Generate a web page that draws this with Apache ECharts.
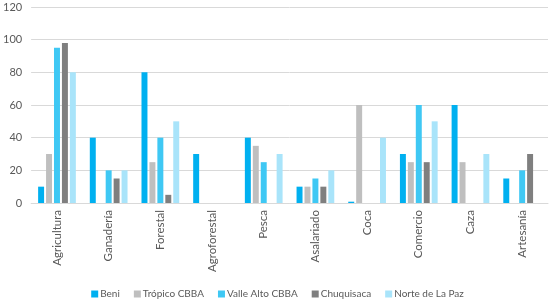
<!DOCTYPE html>
<html><head><meta charset="utf-8">
<script src="https://cdn.jsdelivr.net/npm/echarts@6/dist/echarts.min.js"></script>
<style>html,body{margin:0;padding:0;background:#fff}#c{width:555px;height:300px}</style>
</head><body><div id="c"></div>
<script>
const categories = ["Agricultura","Ganadería","Forestal","Agroforestal","Pesca","Asalariado","Coca","Comercio","Caza","Artesanía"];
const beni      = [10, 40, 80, 30, 40, 10, 0.8, 30, 60, 15];
const tropico   = [30, 0, 25, 0, 35, 10, 60, 25, 25, 0];
const valleAlto = [95, 20, 40, 0, 25, 15, 0, 60, 0, 20];
const chuquisaca= [98, 15, 5, 0, 0, 10, 0, 25, 0, 30];
const norteLaPaz= [80, 20, 50, 0, 30, 20, 40, 50, 30, 0];
const seriesNames = ["Beni","Trópico CBBA","Valle Alto CBBA","Chuquisaca","Norte de La Paz"];
const yTicks = {min:0, max:120, interval:20};

const colors = ["#00B0F0","#BFBFBF","#3FC8F4","#7F7F7F","#A9E4FA"];
const data = [beni, tropico, valleAlto, chuquisaca, norteLaPaz];
const font = "Lato";
const chart = echarts.init(document.getElementById('c'), null, {renderer:'canvas'});
chart.setOption({
  animation:false,
  textStyle:{fontFamily:font},
  grid:{left:27, right:7, top:7, bottom:97, containLabel:false},
  legend:{
    data:seriesNames, bottom:1, left:'center', padding:0,
    itemWidth:7, itemHeight:7, itemGap:14, icon:'rect',
    textStyle:{fontSize:10, color:'#595959', fontFamily:font, padding:[0,0,0,-3]}
  },
  xAxis:{
    type:'category', data:categories,
    axisLine:{lineStyle:{color:'#D9D9D9'}},
    axisTick:{show:false},
    axisLabel:{rotate:90, fontSize:11.5, color:'#595959', margin:7, interval:0, fontFamily:font}
  },
  yAxis:{
    type:'value', min:yTicks.min, max:yTicks.max, interval:yTicks.interval,
    axisLine:{show:false}, axisTick:{show:false},
    splitLine:{lineStyle:{color:'#D9D9D9'}},
    axisLabel:{fontSize:11, color:'#595959', margin:9, fontFamily:font}
  },
  series: seriesNames.map((n,i)=>({
    name:n, type:'bar', data:data[i],
    itemStyle:{color:colors[i]},
    barGap:'33%', barCategoryGap:'27%'
  }))
});
</script></body></html>
